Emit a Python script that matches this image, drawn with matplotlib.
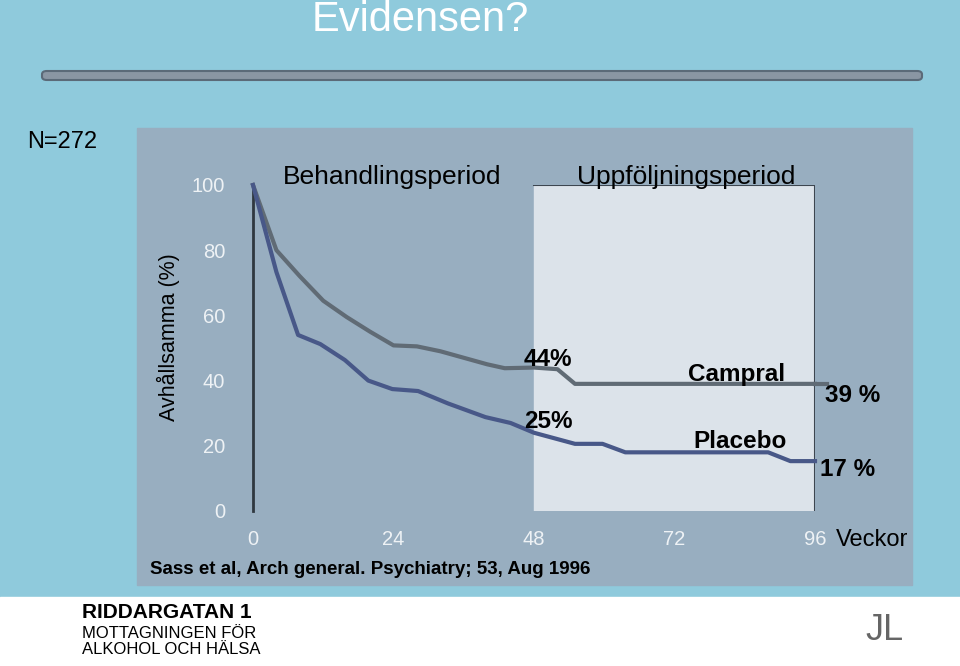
import matplotlib.pyplot as plt
from matplotlib.patches import FancyBboxPatch, Rectangle

plt.rcParams['font.family'] = 'Liberation Sans'

weeks_campral = [0, 4, 8, 12, 16, 20, 24, 28, 32, 36, 40, 43, 48, 52, 55, 96]
campral = [100, 80, 72, 64.5, 59.5, 55, 50.8, 50.5, 49, 47, 45, 43.8, 44, 43.5, 39, 39]
weeks_placebo = [0, 4, 7.7, 11.5, 15.7, 19.7, 23.8, 28.2, 33.3, 39.7, 44, 48, 55, 59.7, 63.6, 88, 91.8, 96]
placebo = [100, 73.3, 54, 51.2, 46.3, 40, 37.4, 36.8, 33, 28.8, 27, 24, 20.6, 20.6, 18, 18, 15.3, 15.3]
xticks = [0, 24, 48, 72, 96]
yticks = [0, 20, 40, 60, 80, 100]

W, H = 960, 666
fig = plt.figure(figsize=(W / 100, H / 100), dpi=100)
fig.patch.set_facecolor('#8fcadc')

def fx(x): return x / W
def fy(y): return 1 - y / H

# white footer
fig.patches.append(Rectangle((0, 0), 1, fy(597), transform=fig.transFigure, color='white', zorder=0))
# rounded divider bar
fig.patches.append(FancyBboxPatch((fx(42), fy(80)), fx(880), 9 / H, boxstyle='round,pad=0,rounding_size=0.005',
                                  transform=fig.transFigure, fc='#8a96a3', ec='#5b6a78', lw=1.5))
# chart panel
fig.patches.append(Rectangle((fx(137), fy(585)), fx(775), (585 - 128) / H, transform=fig.transFigure,
                             color='#98aec0', zorder=0))

fig.text(fx(420), fy(20), 'Evidensen?', color='white', fontsize=30, ha='center', va='center')
fig.text(fx(62), fy(142), 'N=272', color='black', fontsize=17, ha='center', va='center')

ax = fig.add_axes([fx(253), fy(511), fx(562), (511 - 185) / H])
ax.set_zorder(2)
ax.set_facecolor('none')
ax.add_patch(Rectangle((48, 0), 48, 100, color='#dce3ea', zorder=0))
ax.plot([48, 96, 96], [100, 100, 0], color='#3d4650', lw=1.5, zorder=1)
ax.plot(weeks_campral, campral, color='#606b75', lw=3, zorder=3, clip_on=False)
ax.plot(weeks_placebo, placebo, color='#485888', lw=3, zorder=3, clip_on=False)
ax.plot([96, 98], [39, 39], color='#606b75', lw=3, clip_on=False)
ax.set_xlim(0, 96)
ax.set_ylim(0, 100)
ax.set_xticks(xticks)
ax.set_yticks(yticks)
ax.tick_params(colors='#eef2f5', labelsize=14.5, length=0)
ax.tick_params(axis='x', pad=14)
ax.tick_params(axis='y', pad=20)
for s in ['top', 'right', 'bottom']:
    ax.spines[s].set_visible(False)
ax.spines['left'].set_color('#2f3840')
ax.spines['left'].set_linewidth(2)

def lab(x, y, s, size=17.5, bold=True, color='black'):
    fig.text(fx(x), fy(y), s, fontsize=size, fontweight='bold' if bold else 'normal',
             ha='center', va='center', color=color, zorder=5)

lab(392, 177, 'Behandlingsperiod', size=19, bold=False)
lab(686, 177, 'Uppföljningsperiod', size=19, bold=False)
lab(548, 360, '44%')
lab(548, 421, '25%')
lab(737, 375, 'Campral')
lab(740, 442, 'Placebo')
lab(853, 395, '39 %')
lab(848, 470, '17 %')
lab(872, 540, 'Veckor', size=17, bold=False)
lab(370, 569, 'Sass et al, Arch general. Psychiatry; 53, Aug 1996', size=13.5)
fig.text(fx(168), fy(337), 'Avhållsamma (%)', rotation=90, fontsize=15.5, ha='center', va='center', color='black')

# footer logo text
fig.text(fx(82), fy(612), 'RIDDARGATAN 1', fontsize=15, fontweight='bold', va='center')
fig.text(fx(82), fy(633), 'MOTTAGNINGEN FÖR', fontsize=12, va='center')
fig.text(fx(82), fy(650), 'ALKOHOL OCH HÄLSA', fontsize=12, va='center')
fig.text(fx(885), fy(630), 'JL', fontsize=26, color='#666', ha='center', va='center')

fig.savefig('out.png', dpi=100, facecolor=fig.get_facecolor())
